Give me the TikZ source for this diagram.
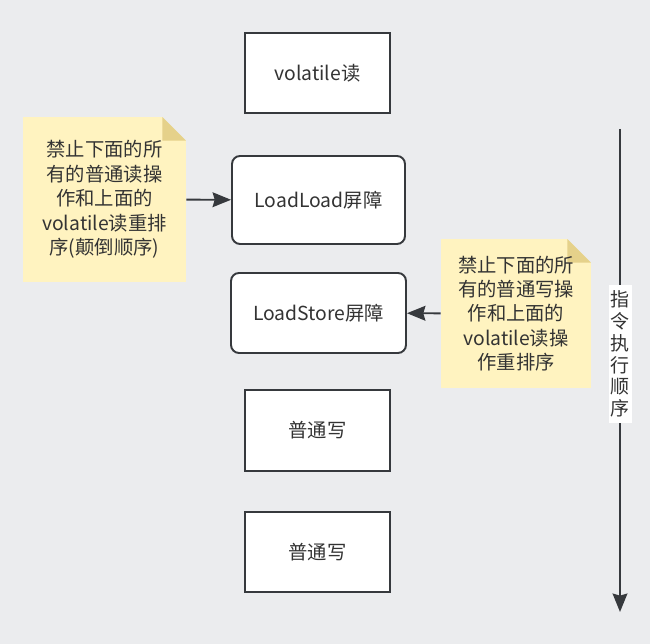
\documentclass[tikz,border=0pt]{standalone}
\usepackage{fontspec}
\setmainfont{Noto Sans CJK SC}
\usetikzlibrary{arrows.meta, positioning}
\definecolor{cBg}{RGB}{235,236,238}
\definecolor{cLine}{RGB}{54,57,61}
\definecolor{cNote}{RGB}{255,243,192}
\definecolor{cFold}{RGB}{229,209,138}
\definecolor{cText}{RGB}{51,51,51}

\tikzset{
  stepbox/.style={draw=cLine, line width=1.1pt, fill=white, text=cText,
    font=\fontsize{11}{14}\selectfont, inner sep=0pt},
  notebox/.style={fill=cNote, text=cText, align=center, inner sep=0pt,
    font=\fontsize{11}{13.9}\selectfont,
    path picture={
      \fill[cBg] ([xshift=-0.47cm]path picture bounding box.north east)
        -- (path picture bounding box.north east)
        -- ([yshift=-0.47cm]path picture bounding box.north east) -- cycle;
      \fill[cFold] ([xshift=-0.47cm]path picture bounding box.north east)
        -- ([xshift=-0.47cm,yshift=-0.47cm]path picture bounding box.north east)
        -- ([yshift=-0.47cm]path picture bounding box.north east) -- cycle;
    }},
  flow/.style={draw=cLine, line width=1.1pt, -{Stealth[length=10.5pt,width=8.4pt,inset=1.2pt]}}
}

\begin{document}
\begin{tikzpicture}[x=0.02cm, y=-0.02cm]
    % page background
    \fill[cBg] (0,0) rectangle (650,644);
    \useasboundingbox (0,0) rectangle (650,644);

    % instruction blocks
    \node[stepbox, minimum width=2.9cm, minimum height=1.6cm] (vread) at (317.5,73) {volatile读};
    \node[stepbox, rounded corners=0.16cm, minimum width=3.46cm, minimum height=1.76cm] (llbar) at (318.5,200) {LoadLoad屏障};
    \node[stepbox, rounded corners=0.16cm, minimum width=3.5cm, minimum height=1.6cm] (lsbar) at (318.5,313) {LoadStore屏障};
    \node[stepbox, minimum width=2.9cm, minimum height=1.62cm] (write1) at (317.5,430.5) {普通写};
    \node[stepbox, minimum width=2.9cm, minimum height=1.6cm] (write2) at (317.5,552) {普通写};

    % notes
    \node[notebox, minimum width=3.26cm, minimum height=3.3cm] (llnote) at (104.5,199.5)
        {禁止下面的所\\有的普通读操\\作和上面的\\volatile读重排\\序(颠倒顺序)};
    \node[notebox, minimum width=3.0cm, minimum height=2.98cm] (lsnote) at (516,313.5)
        {禁止下面的所\\有的普通写操\\作和上面的\\volatile读操\\作重排序};

    % note arrows
    \draw[flow] (llnote) -- (llbar);
    \draw[flow] (lsnote) -- (lsbar);

    % execution order
    \coordinate (ordtop) at (620,129);
    \coordinate (ordend) at (620,612);
    \draw[flow] (ordtop) -- (ordend);
    \node[fill=white, text=cText, align=center, inner sep=0pt, minimum width=0.46cm, minimum height=2.76cm,
        font=\fontsize{10.8}{12.4}\selectfont] (ordlabel) at (620,354) {指\\令\\执\\行\\顺\\序};
\end{tikzpicture}
\end{document}
